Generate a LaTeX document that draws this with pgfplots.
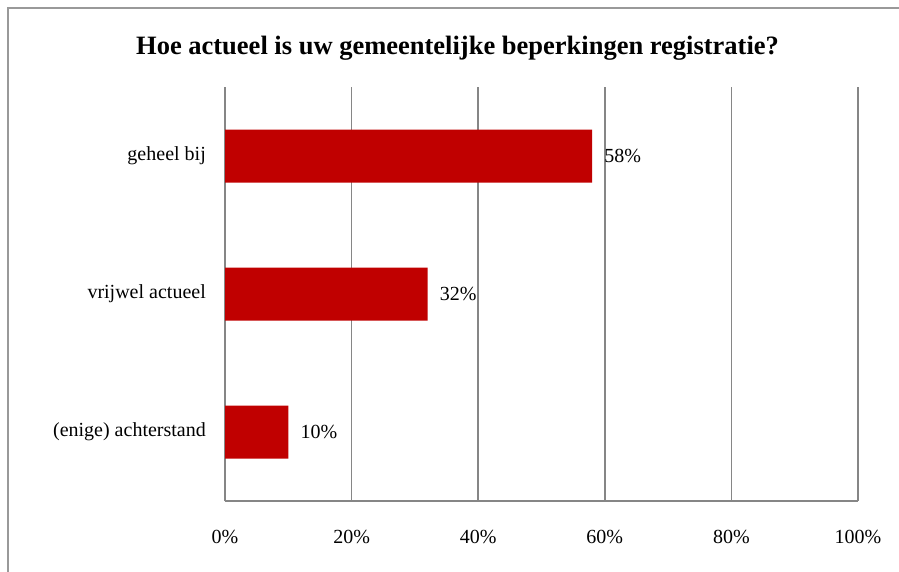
\documentclass[border=0pt]{standalone}
\usepackage{pgfplots}
\pgfplotsset{compat=1.18}
\usepackage{fontspec}
\setmainfont{Liberation Serif}
\definecolor{barred}{HTML}{C00000}
\definecolor{gridgray}{HTML}{868686}
\begin{document}
\begin{tikzpicture}
\useasboundingbox (0pt,0pt) rectangle (899pt,571pt);
\begin{scope}
\clip (0pt,0pt) rectangle (899pt,571pt);
\draw[line width=2pt, color=gray!80] (8pt,-20pt) rectangle (920pt,563pt);
\end{scope}
\node[font=\bfseries\fontsize{26.5}{29}\selectfont] at (457.5pt,523pt) {Hoe actueel is uw gemeentelijke beperkingen registratie?};
\begin{axis}[at={(225pt,70pt)}, anchor=south west, scale only axis,
  width=633pt, height=414pt,
  xmin=0, xmax=100, ymin=-0.5, ymax=2.5,
  xbar, bar width=53pt,
  /pgf/number format/assume math mode=true,
  xtick={0,20,40,60,80,100},
  xticklabel={\pgfmathprintnumber{\tick}\%},
  ytick={0,1,2},
  yticklabels={(enige) achterstand, vrijwel actueel, geheel bij},
  axis lines*=left,
  axis line style={gridgray, line width=1.6pt, -},
  xmajorgrids, grid style={gridgray, line width=1.6pt},
  major tick length=0pt,
  tick label style={font=\fontsize{20}{22}\selectfont},
  xticklabel style={anchor=center, yshift=-36pt},
  yticklabel style={anchor=east, inner sep=0pt, xshift=-19pt},
  nodes near coords={\pgfmathprintnumber{\pgfplotspointmeta}\%},
  nodes near coords style={anchor=west, inner sep=0pt, xshift=12pt, font=\fontsize{20}{22}\selectfont, text=black},
]
\addplot[fill=barred, draw=none] coordinates {(10,0) (32,1) (58,2)};
\end{axis}
\end{tikzpicture}
\end{document}
